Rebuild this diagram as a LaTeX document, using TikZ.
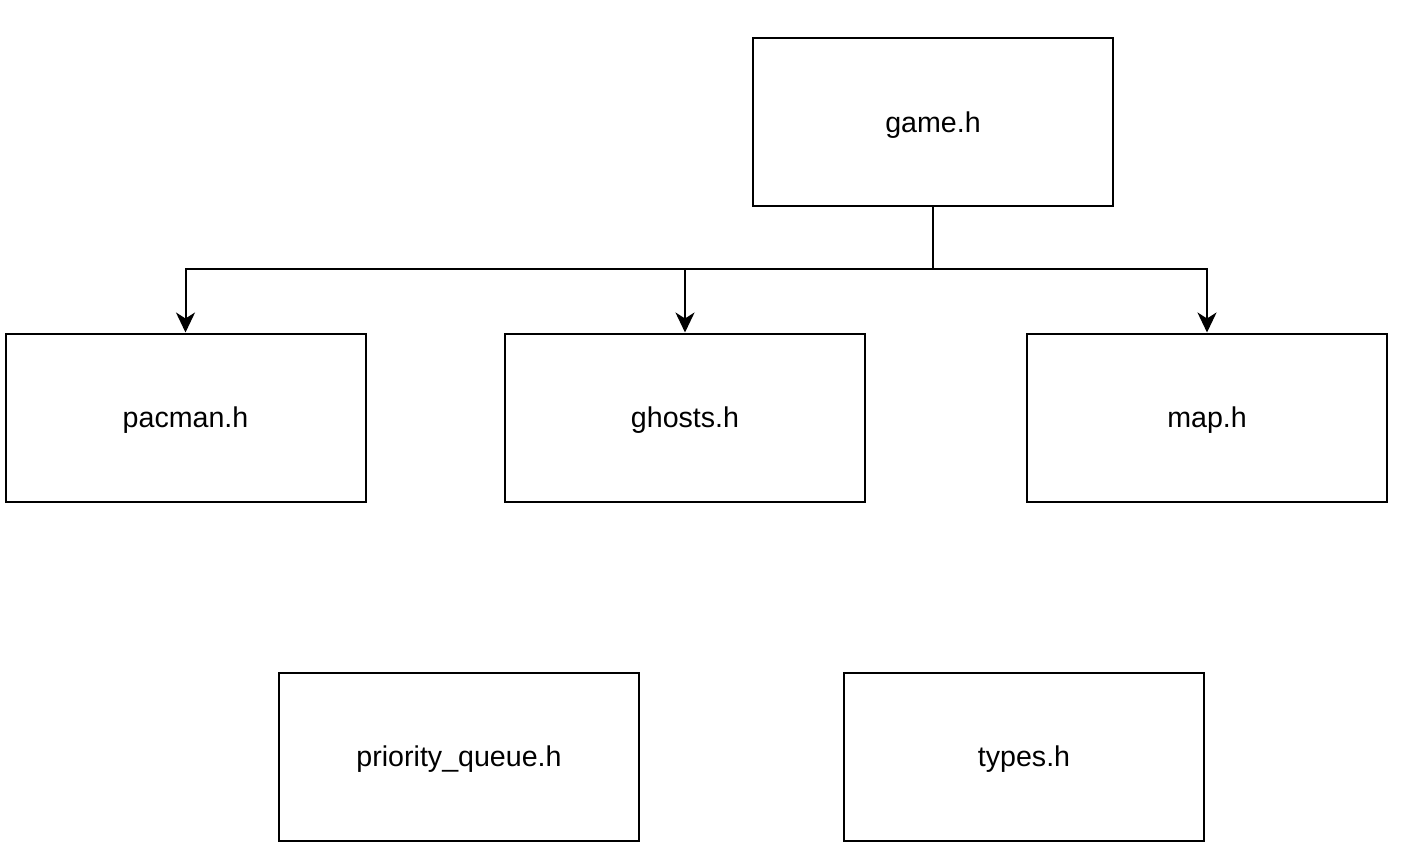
\documentclass[tikz,border=0pt]{standalone}
\usepackage{fontspec}
\setmainfont{Liberation Sans}
\usetikzlibrary{arrows.meta}
\begin{document}
\begin{tikzpicture}[x=1pt,y=-1pt,
  box/.style={draw=black,line width=2pt,minimum width=360pt,minimum height=168pt,inner sep=0pt,text depth=0pt,font=\fontsize{28.6}{32}\selectfont},
  conn/.style={line width=2pt,-{Stealth[length=20pt,width=19pt,inset=6pt]}}]
\useasboundingbox (0,0) rectangle (1404,856);
\node[box] (game) at (933,122) {game.h};
\node[box] (pacman) at (185.5,417.5) {pacman.h};
\node[box] (ghosts) at (685,417.5) {ghosts.h};
\node[box] (map) at (1207,417.5) {map.h};
\node[box] (pq) at (459,756.5) {priority\_queue.h};
\node[box] (types) at (1024,756.5) {types.h};
\coordinate (j) at (933,269);
\draw[line width=2pt] (game.south) -- (j);
\draw[conn] (j) -| (pacman.north);
\draw[conn] (j) -| (ghosts.north);
\draw[conn] (j) -| (map.north);
\end{tikzpicture}
\end{document}
